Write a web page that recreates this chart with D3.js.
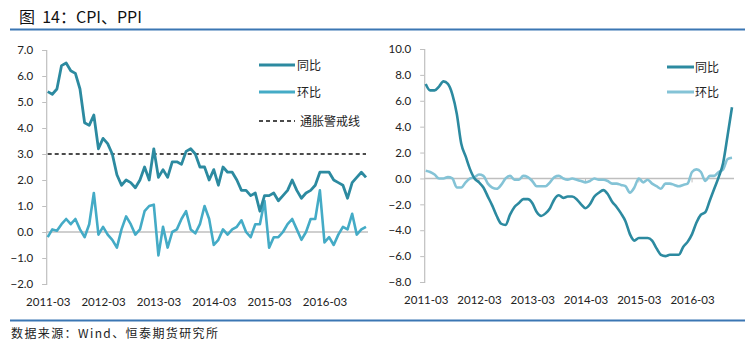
<!DOCTYPE html>
<html><head><meta charset="utf-8">
<script src="https://cdn.jsdelivr.net/npm/d3@7/dist/d3.min.js"></script>
<style>
body{margin:0;background:#fff;}
svg{display:block;}
</style></head>
<body><svg id="c" width="755" height="357"></svg>
<script>
const months = [];
for (let y = 2011; y <= 2016; y++) for (let m = 1; m <= 12; m++) {
  if (y === 2011 && m < 3) continue;
  months.push(y + "-" + String(m).padStart(2, "0"));
}
const xTickLabels = ["2011-03","2012-03","2013-03","2014-03","2015-03","2016-03"];

const cpiYoY = [5.4,5.3,5.5,6.4,6.5,6.2,6.1,5.5,4.2,4.1,4.5,3.2,3.6,3.4,3.0,2.2,1.8,2.0,1.9,1.7,2.0,2.5,2.0,3.2,2.1,2.4,2.1,2.7,2.7,2.6,3.1,3.2,3.0,2.5,2.5,2.0,2.4,1.8,2.5,2.3,2.3,2.0,1.6,1.6,1.4,1.5,0.8,1.4,1.4,1.5,1.2,1.4,1.6,2.0,1.6,1.3,1.5,1.6,1.8,2.3,2.3,2.3,2.0,1.9,1.8,1.3,1.9,2.1,2.3,2.1];
const cpiMoM = [-0.2,0.1,0.05,0.3,0.5,0.3,0.5,0.1,-0.2,0.3,1.5,-0.1,0.2,-0.1,-0.3,-0.6,0.1,0.6,0.3,-0.1,0.1,0.8,1.0,1.05,-0.9,0.2,-0.6,0.0,0.1,0.5,0.8,0.1,-0.05,0.3,1.0,0.5,-0.5,-0.3,0.1,-0.1,0.1,0.2,0.45,0.0,-0.2,0.3,0.3,1.2,-0.6,-0.2,-0.2,0.0,0.3,0.5,0.1,-0.3,0.0,0.5,0.5,1.6,-0.4,-0.2,-0.5,-0.1,0.2,0.1,0.7,-0.1,0.1,0.2];
const cpiWarn = 3.0;

const ppiYoY = [7.3,6.8,6.8,7.1,7.5,7.3,6.5,5.0,2.7,1.7,0.7,0.0,-0.3,-0.7,-1.4,-2.1,-2.9,-3.5,-3.6,-2.8,-2.2,-1.9,-1.6,-1.6,-1.9,-2.6,-2.9,-2.7,-2.3,-1.6,-1.3,-1.5,-1.4,-1.4,-1.6,-2.0,-2.3,-2.0,-1.4,-1.1,-0.9,-1.2,-1.8,-2.2,-2.7,-3.3,-4.3,-4.8,-4.6,-4.6,-4.6,-4.8,-5.4,-5.9,-6.0,-5.9,-5.9,-5.9,-5.3,-4.9,-4.3,-3.4,-2.8,-2.6,-1.7,-0.8,0.1,1.2,3.3,5.5];
const ppiMoM = [0.6,0.5,0.3,0.0,0.0,0.1,0.0,-0.7,-0.7,-0.3,0.0,0.1,0.3,0.2,-0.4,-0.7,-0.8,-0.5,0.0,0.2,-0.1,-0.1,0.2,0.1,-0.2,-0.6,-0.6,-0.6,-0.3,0.1,0.2,0.0,-0.1,0.0,-0.1,-0.2,-0.3,-0.2,0.0,-0.1,-0.1,-0.2,-0.4,-0.4,-0.5,-0.6,-1.1,-0.7,0.0,-0.3,-0.1,-0.4,-0.6,-0.8,-0.4,-0.4,-0.5,-0.6,-0.5,-0.4,0.5,0.7,0.5,-0.2,0.2,0.2,0.5,0.7,1.5,1.6];

const leftTicks = [-2,-1,0,1,2,3,4,5,6,7];
const rightTicks = [-8,-6,-4,-2,0,2,4,6,8,10];

const C_DARK = "#2c8aa0";
const C_MID = "#44abc6";
const C_LIGHT = "#84c3d6";
const BLUE = "#3b76b3";
const TICKFONT = "Lato, 'Liberation Sans', sans-serif";
const CJK = "'Noto Sans CJK SC', sans-serif";

const svg = d3.select("#c");

// title
svg.append("text").attr("x", 19).attr("y", 23).attr("font-family", CJK)
  .attr("font-size", 16).attr("fill", "#111").attr("xml:space", "preserve")
  .style("white-space", "pre").text("图  14：CPI、PPI");
svg.append("line").attr("x1", 10).attr("x2", 745).attr("y1", 29.5).attr("y2", 29.5)
  .attr("stroke", BLUE).attr("stroke-width", 2);
svg.append("line").attr("x1", 10).attr("x2", 745).attr("y1", 320.5).attr("y2", 320.5)
  .attr("stroke", BLUE).attr("stroke-width", 2);
svg.append("text").attr("x", 11).attr("y", 338).attr("font-family", CJK)
  .attr("font-size", 12).attr("letter-spacing", 1.4).attr("fill", "#222").text("数据来源：Wind、恒泰期货研究所");

function panel(cfg) {
  const x = d3.scaleLinear().domain([0, months.length - 1]).range(cfg.xr);
  const y = d3.scaleLinear().domain(cfg.yd).range(cfg.yr);
  const g = svg.append("g");
  const ya = d3.axisLeft(y).tickValues(cfg.ticks).tickSize(4).tickPadding(9)
    .tickFormat(d3.format(".1f"));
  const yg = g.append("g").attr("transform", `translate(${cfg.xr[0] - 1.5},0)`).call(ya);
  yg.select(".domain").attr("stroke", "#bfbfbf").attr("stroke-width", 1.2);
  yg.selectAll(".tick line").attr("stroke", "#bfbfbf");
  yg.selectAll(".tick text").attr("font-family", TICKFONT).attr("font-size", 11.5).attr("fill", "#222");
  g.append("line").attr("x1", cfg.xr[0] - 1.5).attr("x2", cfg.xr[1] + 2)
    .attr("y1", y(0)).attr("y2", y(0)).attr("stroke", "#bfbfbf").attr("stroke-width", 1.5);
  const xa = d3.axisBottom(x).tickValues(xTickLabels.map(l => months.indexOf(l)))
    .tickFormat(i => months[i]).tickSize(0).tickPadding(0);
  const xg = g.append("g").attr("transform", `translate(0,${cfg.xLabelY})`).call(xa);
  xg.select(".domain").remove();
  xg.selectAll(".tick text").attr("font-family", TICKFONT).attr("font-size", 11.5).attr("fill", "#222");
  if (cfg.xTicks) {
    g.selectAll(".xt").data(xTickLabels.slice(1)).enter().append("line")
      .attr("x1", d => x(months.indexOf(d))).attr("x2", d => x(months.indexOf(d)))
      .attr("y1", y(0)).attr("y2", y(0) + 4).attr("stroke", "#bfbfbf");
  }
  return {x, y, g};
}

// left panel
const L = panel({xr: [47.7, 366], yd: [-2, 7], yr: [284, 50], ticks: leftTicks, xLabelY: 298});
const lineL = d3.line().x((d, i) => L.x(i)).y(d => L.y(d));
L.g.append("line").attr("x1", L.x(0)).attr("x2", 366).attr("y1", L.y(cpiWarn)).attr("y2", L.y(cpiWarn))
  .attr("stroke", "#111").attr("stroke-width", 1.6).attr("stroke-dasharray", "4,3");
L.g.append("path").datum(cpiMoM).attr("d", lineL).attr("fill", "none")
  .attr("stroke", C_MID).attr("stroke-width", 2.6).attr("stroke-linejoin", "round");
L.g.append("path").datum(cpiYoY).attr("d", lineL).attr("fill", "none")
  .attr("stroke", C_DARK).attr("stroke-width", 2.8).attr("stroke-linejoin", "round");

const legL = [
  {label: "同比", color: C_DARK, dash: null, y: 65},
  {label: "环比", color: C_MID, dash: null, y: 92},
  {label: "通胀警戒线", color: "#111", dash: "4,3", y: 121}
];
legL.forEach(d => {
  L.g.append("line").attr("x1", 259).attr("x2", 295).attr("y1", d.y).attr("y2", d.y)
    .attr("stroke", d.color).attr("stroke-width", d.dash ? 1.6 : 3)
    .attr("stroke-dasharray", d.dash);
  L.g.append("text").attr("x", d.dash ? 300 : 297).attr("y", d.y + 4.5).attr("font-family", CJK)
    .attr("font-size", 12).attr("fill", "#222").text(d.label);
});

// right panel
const R = panel({xr: [425.7, 732], yd: [-8, 10], yr: [282, 49], ticks: rightTicks, xLabelY: 296, xTicks: true});
const lineR = d3.line().x((d, i) => R.x(i)).y(d => R.y(d)).curve(d3.curveMonotoneX);
R.g.append("path").datum(ppiMoM).attr("d", lineR).attr("fill", "none")
  .attr("stroke", C_LIGHT).attr("stroke-width", 2.6).attr("stroke-linejoin", "round");
R.g.append("path").datum(ppiYoY).attr("d", lineR).attr("fill", "none")
  .attr("stroke", C_DARK).attr("stroke-width", 2.6).attr("stroke-linejoin", "round");

const legR = [
  {label: "同比", color: C_DARK, y: 67},
  {label: "环比", color: C_LIGHT, y: 92}
];
legR.forEach(d => {
  R.g.append("line").attr("x1", 667).attr("x2", 694).attr("y1", d.y).attr("y2", d.y)
    .attr("stroke", d.color).attr("stroke-width", 3);
  R.g.append("text").attr("x", 695).attr("y", d.y + 4.5).attr("font-family", CJK)
    .attr("font-size", 12).attr("fill", "#222").text(d.label);
});
</script></body></html>
